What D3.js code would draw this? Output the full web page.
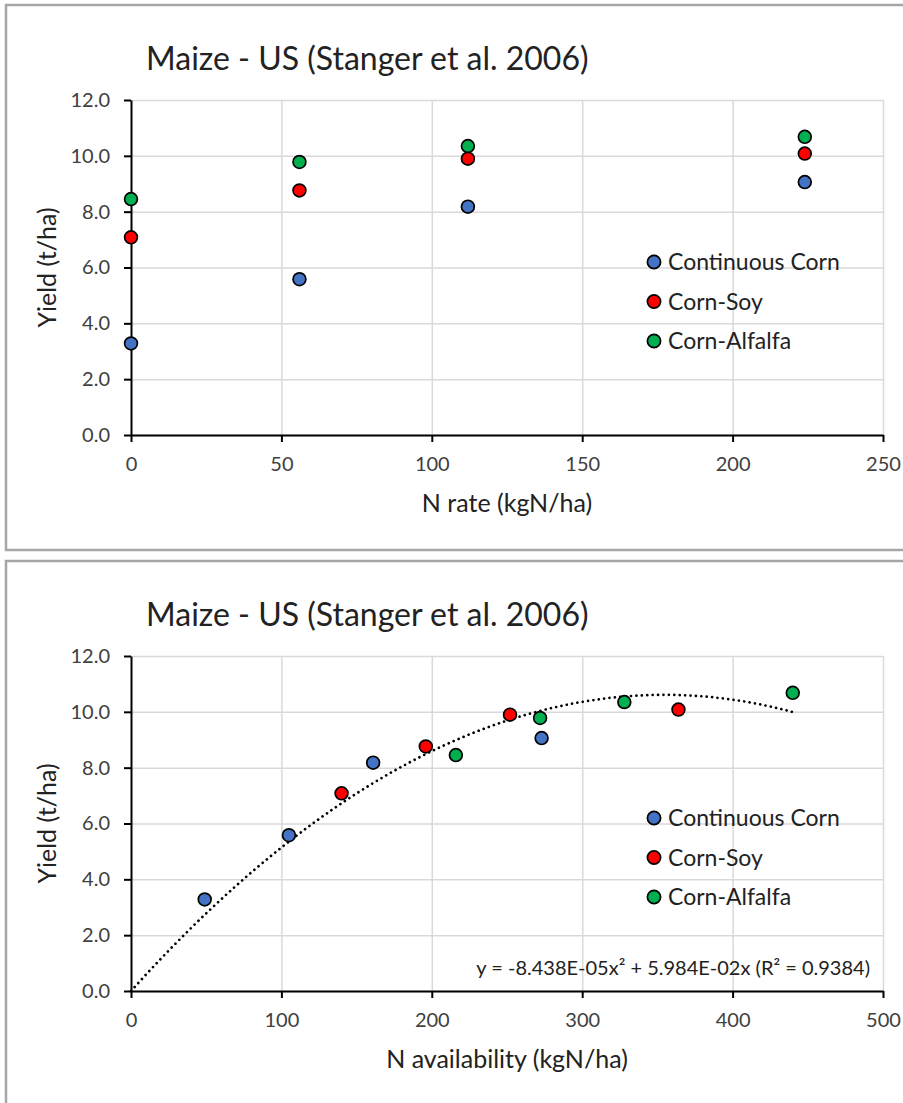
<!DOCTYPE html>
<html>
<head>
<meta charset="utf-8">
<style>
  body { margin: 0; background: #fff; }
  svg { display: block; font-family: Lato, "Open Sans", sans-serif; }
  .grid line { stroke: #d9d9d9; stroke-width: 1.5; }
  .grid path { display: none; }
  .axis path, .axis line { stroke: #000; stroke-width: 2; }
  .axis text { fill: #404040; font-size: 20px; font-family: Lato, sans-serif; }
</style>
</head>
<body>
<script src="https://cdn.jsdelivr.net/npm/d3@7/dist/d3.min.js"></script>
<script>
// data
var seriesNames = ["Continuous Corn", "Corn-Soy", "Corn-Alfalfa"];
var seriesColors = ["#4472c4", "#ff0000", "#00b050"];
var nRate = [0, 56, 112, 224];
var yieldCC = [3.28, 5.58, 8.18, 9.06];
var yieldCS = [7.08, 8.76, 9.90, 10.08];
var yieldCA = [8.45, 9.78, 10.35, 10.68];
var nAvailCC = [49, 105, 161, 273];
var nAvailCS = [140, 196, 252, 364];
var nAvailCA = [216, 272, 328, 440];
var trendCoef = [-8.438e-05, 5.984e-02]; // a*x^2 + b*x
var trendLabel = "y = -8.438E-05x\u00b2 + 5.984E-02x (R\u00b2 = 0.9384)";
var chartTitle = "Maize - US (Stanger et al. 2006)";
var yTicks = [0, 2, 4, 6, 8, 10, 12];
var xTicksTop = [0, 50, 100, 150, 200, 250];
var xTicksBottom = [0, 100, 200, 300, 400, 500];

var W = 903, H = 1103;
var svg = d3.select('body').append('svg')
    .attr('width', W)
    .attr('height', H);

function drawPanel(top, cfg) {
    // panel frame
    svg.append('rect')
        .attr('x', 6).attr('y', top)
        .attr('width', W + 10).attr('height', cfg.panelH)
        .attr('fill', '#fff')
        .attr('stroke', '#a6a6a6')
        .attr('stroke-width', 2.5);

    var g = svg.append('g').attr('transform', 'translate(0,' + top + ')');

    var x = d3.scaleLinear().domain(cfg.xDomain).range([131, 883]);
    var y = d3.scaleLinear().domain([0, 12]).range([430, 95]);

    // grid
    g.append('g').attr('class', 'grid')
        .attr('transform', 'translate(131,0)')
        .call(d3.axisLeft(y).tickValues(yTicks).tickSize(-(883 - 131)).tickFormat(''));
    g.append('g').attr('class', 'grid')
        .attr('transform', 'translate(0,95)')
        .call(d3.axisBottom(x).tickValues(cfg.xTicks.slice(1)).tickSize(430 - 95).tickFormat(''));

    // axes
    g.append('g').attr('class', 'axis')
        .attr('transform', 'translate(131,0)')
        .call(d3.axisLeft(y).tickValues(yTicks).tickSize(7).tickSizeOuter(0).tickPadding(14).tickFormat(d3.format('.1f')));
    g.append('g').attr('class', 'axis')
        .attr('transform', 'translate(0,430)')
        .call(d3.axisBottom(x).tickValues(cfg.xTicks).tickSize(7).tickSizeOuter(0).tickPadding(15));

    // title
    g.append('text')
        .attr('x', 146).attr('y', 65)
        .attr('font-size', 32)
        .attr('fill', '#222')
        .text(chartTitle);

    // axis titles
    g.append('text')
        .attr('x', 507).attr('y', 507)
        .attr('text-anchor', 'middle')
        .attr('font-size', 25)
        .attr('fill', '#222')
        .text(cfg.xTitle);
    g.append('text')
        .attr('transform', 'translate(56,' + ((95 + 430) / 2) + ') rotate(-90)')
        .attr('text-anchor', 'middle')
        .attr('font-size', 25)
        .attr('fill', '#222')
        .text('Yield (t/ha)');

    // trend line
    if (cfg.trend) {
        var xs = d3.range(0, d3.max(nAvailCA) + 1, 4);
        var line = d3.line()
            .x(d => x(d))
            .y(d => y(trendCoef[0] * d * d + trendCoef[1] * d));
        g.append('path')
            .datum(xs)
            .attr('d', line)
            .attr('fill', 'none')
            .attr('stroke', '#000')
            .attr('stroke-width', 2.7)
            .attr('stroke-linecap', 'round')
            .attr('stroke-dasharray', '0.01 5.4');
        g.append('text')
            .attr('x', 870).attr('y', 414)
            .attr('text-anchor', 'end')
            .attr('font-size', 20)
            .attr('fill', '#222')
            .text(trendLabel);
    }

    // points
    cfg.series.forEach(function(s, i) {
        g.selectAll('circle.s' + i)
            .data(d3.zip(s.xs, s.ys))
            .enter().append('circle')
            .attr('class', 's' + i)
            .attr('cx', d => x(d[0]))
            .attr('cy', d => y(d[1]))
            .attr('r', 6.4)
            .attr('fill', seriesColors[i])
            .attr('stroke', '#000')
            .attr('stroke-width', 1.7);
    });

    // legend
    var leg = g.selectAll('g.leg')
        .data(seriesNames)
        .enter().append('g')
        .attr('class', 'leg')
        .attr('transform', (d, i) => 'translate(654,' + (257 + i * 39.5) + ')');
    leg.append('circle')
        .attr('r', 6.6)
        .attr('fill', (d, i) => seriesColors[i])
        .attr('stroke', '#000')
        .attr('stroke-width', 1.7);
    leg.append('text')
        .attr('x', 14)
        .attr('dy', '0.36em')
        .attr('font-size', 23)
        .attr('fill', '#222')
        .text(d => d);
}

drawPanel(5, {
    panelH: 545,
    xDomain: [0, 250],
    xTicks: xTicksTop,
    xTitle: 'N rate (kgN/ha)',
    series: [
        {xs: nRate, ys: yieldCC},
        {xs: nRate, ys: yieldCS},
        {xs: nRate, ys: yieldCA}
    ]
});

drawPanel(561, {
    panelH: 600,
    xDomain: [0, 500],
    xTicks: xTicksBottom,
    xTitle: 'N availability (kgN/ha)',
    trend: true,
    series: [
        {xs: nAvailCC, ys: yieldCC},
        {xs: nAvailCS, ys: yieldCS},
        {xs: nAvailCA, ys: yieldCA}
    ]
});
</script>
</body>
</html>
